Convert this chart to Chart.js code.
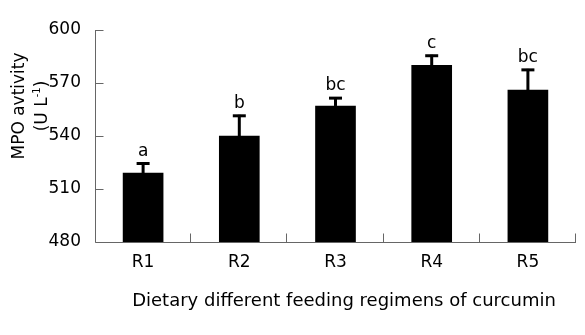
<!DOCTYPE html>
<html>
<head>
<meta charset="utf-8">
<script src="https://cdn.jsdelivr.net/npm/chart.js@4.4.1/dist/chart.umd.min.js"></script>
<style>
  html, body { margin: 0; padding: 0; background: #fff; }
  #wrap { width: 585px; height: 335px; }
</style>
</head>
<body>
<div id="wrap"><canvas id="mpoChart" width="585" height="335"></canvas></div>
<script>
const groups = ['R1', 'R2', 'R3', 'R4', 'R5'];
const mpoMeans = [519, 540, 557, 580, 566];
const mpoErrors = [6, 12, 5, 6, 12];
const sigLetters = ['a', 'b', 'bc', 'c', 'bc'];
const yTicks = [480, 510, 540, 570, 600];
const xTitle = 'Dietary different feeding regimens of curcumin';

const FONT = 'DejaVu Sans, Verdana, sans-serif';
const AXIS = '#666';

// error bars, significance letters, inward ticks and the axis titles
const extras = {
  id: 'extras',
  afterDatasetsDraw(chart) {
    const ctx = chart.ctx;
    const x = chart.scales.x, y = chart.scales.y;
    const area = chart.chartArea;
    ctx.save();

    // error bars
    ctx.strokeStyle = '#000';
    mpoMeans.forEach((v, i) => {
      const cx = x.getPixelForValue(i);
      const yTop = y.getPixelForValue(v + mpoErrors[i]);
      const yBar = y.getPixelForValue(v);
      ctx.lineWidth = 3;
      ctx.beginPath();
      ctx.moveTo(cx, yBar);
      ctx.lineTo(cx, yTop);
      ctx.stroke();
      ctx.beginPath();
      ctx.moveTo(cx - 6.5, yTop + 1);
      ctx.lineTo(cx + 6.5, yTop + 1);
      ctx.stroke();

      ctx.fillStyle = '#000';
      ctx.font = '17px ' + FONT;
      ctx.textAlign = 'center';
      ctx.textBaseline = 'alphabetic';
      ctx.fillText(sigLetters[i], cx, yTop - 7);
    });

    // axes with ticks pointing into the plot
    ctx.strokeStyle = AXIS;
    ctx.lineWidth = 1;
    ctx.beginPath();
    const left = Math.round(area.left) + 0.5;
    const bottom = Math.round(area.bottom) + 0.5;
    ctx.moveTo(left, Math.round(area.top));
    ctx.lineTo(left, bottom);
    ctx.lineTo(Math.round(area.right), bottom);
    yTicks.forEach(t => {
      const py = Math.round(y.getPixelForValue(t)) + 0.5;
      ctx.moveTo(left, py);
      ctx.lineTo(left + 8, py);
    });
    const step = (area.right - area.left) / groups.length;
    for (let i = 1; i <= groups.length; i++) {
      const px = Math.round(area.left + step * i) - 0.5;
      ctx.moveTo(px, bottom);
      ctx.lineTo(px, bottom - 9);
    }
    ctx.stroke();

    // x axis title, a little right of the plot centre
    ctx.fillStyle = '#000';
    ctx.font = '18px ' + FONT;
    ctx.textAlign = 'center';
    ctx.textBaseline = 'middle';
    ctx.fillText(xTitle, 344, 301);

    // y axis title, two rotated lines
    ctx.font = '17px ' + FONT;
    ctx.translate(20, 106);
    ctx.rotate(-Math.PI / 2);
    ctx.fillText('MPO avtivity', 0, 0);
    ctx.restore();

    ctx.save();
    ctx.fillStyle = '#000';
    ctx.translate(43, 106);
    ctx.rotate(-Math.PI / 2);
    ctx.textBaseline = 'middle';
    const main = '(U L';
    const sup = '-1';
    const close = ')';
    ctx.font = '17px ' + FONT;
    const wMain = ctx.measureText(main).width;
    const wClose = ctx.measureText(close).width;
    ctx.font = '10px ' + FONT;
    const wSup = ctx.measureText(sup).width;
    let sx = -(wMain + wSup + wClose) / 2;
    ctx.textAlign = 'left';
    ctx.font = '17px ' + FONT;
    ctx.fillText(main, sx, 0);
    sx += wMain;
    ctx.font = '10px ' + FONT;
    ctx.fillText(sup, sx, -6);
    sx += wSup;
    ctx.font = '17px ' + FONT;
    ctx.fillText(close, sx, 0);
    ctx.restore();
  }
};

new Chart(document.getElementById('mpoChart'), {
  type: 'bar',
  data: {
    labels: groups,
    datasets: [{
      data: mpoMeans,
      backgroundColor: '#000',
      borderWidth: 0,
      barThickness: 40
    }]
  },
  options: {
    responsive: false,
    animation: false,
    layout: { padding: { top: 30, right: 9, left: 0, bottom: 0 } },
    plugins: {
      legend: { display: false },
      tooltip: { enabled: false }
    },
    scales: {
      x: {
        grid: { display: false, drawTicks: false },
        border: { display: false },
        ticks: { color: '#000', font: { family: FONT, size: 17 }, padding: 10 },
        afterFit(scale) { scale.height = 93; }
      },
      y: {
        min: 480,
        max: 600,
        afterBuildTicks(scale) { scale.ticks = yTicks.map(v => ({ value: v })); },
        grid: { display: false, drawTicks: false },
        border: { display: false },
        ticks: { color: '#000', font: { family: FONT, size: 17 }, padding: 14 },
        afterFit(scale) { scale.width = 95; }
      }
    }
  },
  plugins: [extras]
});
</script>
</body>
</html>
